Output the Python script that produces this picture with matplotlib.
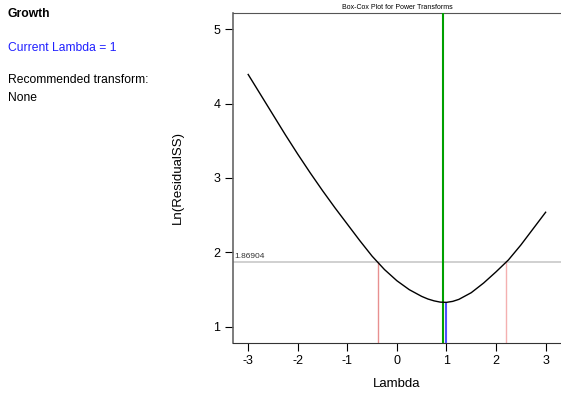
import matplotlib.pyplot as plt

plt.rcParams['font.family'] = ['Liberation Sans', 'DejaVu Sans']

# curva Box-Cox
lambdas = [-3.0, -2.75, -2.5, -2.25, -2.0, -1.75, -1.5, -1.25, -1.0, -0.75, -0.5, -0.25,
           0.0, 0.25, 0.5, 0.625, 0.75, 0.875, 1.0, 1.125, 1.25, 1.5, 1.75, 2.0, 2.25, 2.5, 2.75, 3.0]
ln_rss = [4.39, 4.12, 3.85, 3.58, 3.32, 3.07, 2.83, 2.60, 2.38, 2.16, 1.95, 1.77,
          1.62, 1.50, 1.41, 1.375, 1.35, 1.333, 1.33, 1.343, 1.37, 1.46, 1.59, 1.74, 1.90, 2.10, 2.32, 2.54]

best_lambda = 0.92
current_lambda = 1.0
current_value = 1.33
threshold = 1.86904
ci_low = -0.39
ci_high = 2.21

xticks = [-3, -2, -1, 0, 1, 2, 3]
yticks = [1, 2, 3, 4, 5]

fig = plt.figure(figsize=(5.61, 3.96), dpi=100)
ax = fig.add_axes([0.415, 0.134, 0.585, 0.834])

ymin = 0.785
ax.plot(lambdas, ln_rss, color='black', linewidth=1.0, zorder=5)
ax.axhline(threshold, color='#c8c8c8', linewidth=1.2, zorder=1)
ax.text(-3.27, threshold + 0.03, '%.5f' % threshold, fontsize=6, color='#333333', va='bottom', ha='left')
ax.vlines([ci_low], ymin, threshold, color='#e89090', linewidth=1.0, zorder=2)
ax.vlines([ci_high], ymin, threshold, color='#f4b0b0', linewidth=1.0, zorder=2)
ax.vlines([current_lambda], ymin, current_value, color='#5050ff', linewidth=1.5, zorder=3)
ax.axvline(best_lambda, color='#00a000', linewidth=1.5, zorder=4)

ax.set_xlim(-3.31, 3.31)
ax.set_ylim(ymin, 5.22)
ax.set_xticks(xticks)
ax.set_xticklabels([str(t) for t in xticks])
ax.set_yticks(yticks)
ax.set_yticklabels([str(t) for t in yticks])
ax.tick_params(axis='both', direction='out', length=6, width=0.8, labelsize=9, pad=3)
ax.spines['right'].set_visible(False)
ax.spines['left'].set_color('#666666')
ax.spines['left'].set_linewidth(1.2)
ax.spines['top'].set_color('#555555')
ax.spines['bottom'].set_color('#333333')

ax.set_xlabel('Lambda', fontsize=9.5)
ax.set_ylabel('Ln(ResidualSS)', fontsize=9.5)
ax.xaxis.set_label_coords(0.5, -0.105)
ax.yaxis.set_label_coords(-0.15, 0.5)
ax.set_title('Box-Cox Plot for Power Transforms', fontsize=5, pad=3)

# pannello di testo a sinistra
fig.text(0.014, 0.957, 'Growth', fontsize=8.7, fontweight='bold', va='baseline')
fig.text(0.014, 0.871, 'Current Lambda = 1', fontsize=8.7, color='#2020ff', va='baseline')
fig.text(0.014, 0.790, 'Recommended transform:', fontsize=8.7, va='baseline')
fig.text(0.014, 0.745, 'None', fontsize=8.7, va='baseline')

fig.savefig('out.png', dpi=100)
